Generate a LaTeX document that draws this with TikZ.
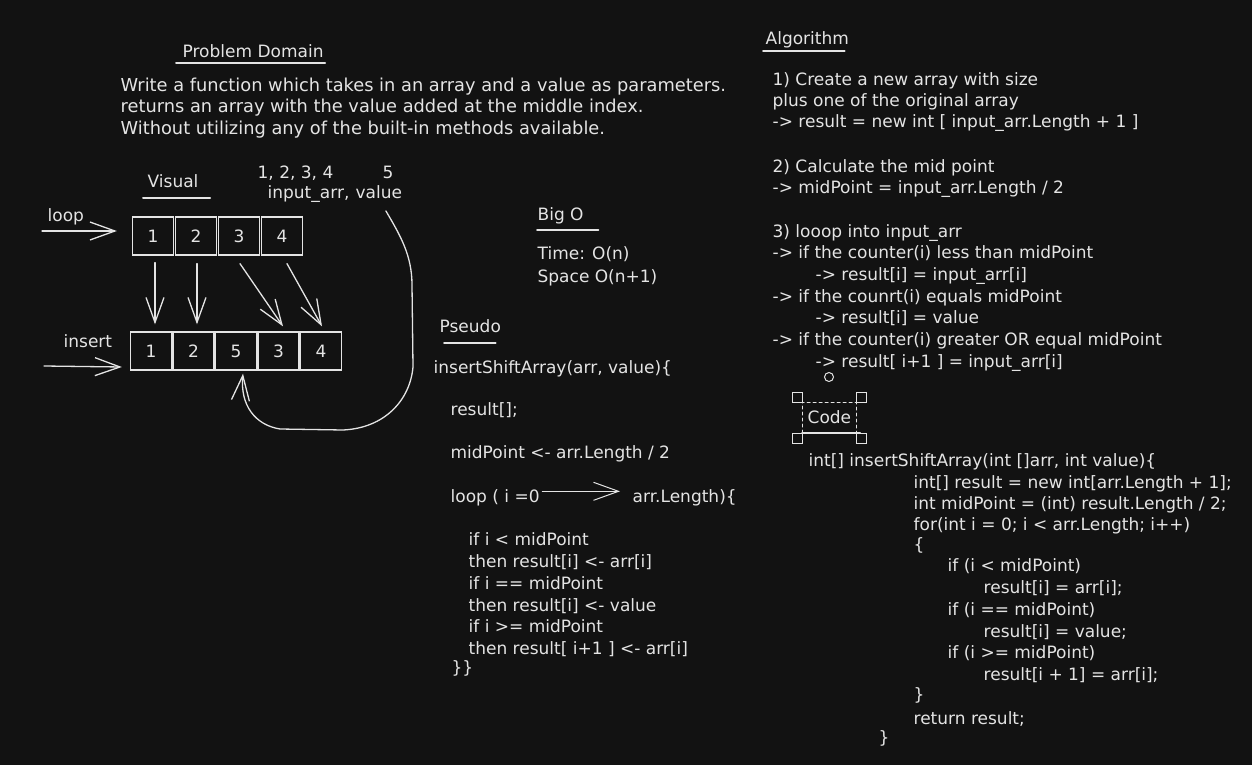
\documentclass[tikz,border=0pt]{standalone}
\usepackage{fontspec}
\setmainfont{DejaVu Sans}
\usetikzlibrary{arrows.meta}
\definecolor{board}{HTML}{121212}
\definecolor{chalk}{HTML}{E4E4E4}

\begin{document}
\begin{tikzpicture}[x=1pt,y=-1pt,color=chalk,line width=1.3pt,line cap=round,
	>={Straight Barb[length=25pt,width=18pt]},
	txt/.style={anchor=base west,inner sep=0pt,font=\fontsize{17}{20}\selectfont},
	wide/.style={txt,font=\fontsize{17.8}{20}\selectfont},
	cell/.style={draw,minimum width=41pt,minimum height=38pt,inner sep=0pt,font=\fontsize{17}{20}\selectfont},
	uline/.style={line width=2pt}]
	\fill[board] (0,0) rectangle (1252,765);
	\useasboundingbox (0,0) rectangle (1252,765);

	% Problem domain
	\node[txt] (pd) at (182,58) {Problem Domain};
	\draw[uline] ([shift={(-6,5)}]pd.base west) -- ([shift={(1,5)}]pd.base east);
	\node[wide] (pd1) at (120,92) {Write a function which takes in an array and a value as parameters.};
	\node[wide] (pd2) at (120,113) {returns an array with the value added at the middle index.};
	\node[wide] (pd3) at (120,135) {Without utilizing any of the built-in methods available.};

	% Visual
	\node[txt] (vis) at (147,187) {Visual};
	\draw[uline] ([shift={(-4,11)}]vis.base west) -- ([shift={(11,11)}]vis.base east);
	\node[txt] (nums) at (257,178) {1, 2, 3, 4};
	\node[txt] (five) at (382,178) {5};
	\node[txt] (inarr) at (267,198) {input\_arr,};
	\node[txt] (val) at (355,198) {value};

	\foreach \v [count=\i] in {1,2,3,4}
		\node[cell] (t\i) at ({153+43*(\i-1)},236) {\v};
	\foreach \v [count=\i] in {1,2,5,3,4}
		\node[cell] (b\i) at ({151+42.5*(\i-1)},351) {\v};

	% loop / insert
	\node[txt] (lp) at (47,221) {loop};
	\coordinate (lpin) at (42,231);
	\draw[->] (lpin) -- ([shift={(-15,-5)}]t1.west);
	\node[txt] (ins) at (63,347) {insert};
	\coordinate (insin) at (44,366);
	\draw[->] (insin) -- ([shift={(-8,16)}]b1.west);

	% Copy arrows
	\draw[->] ([shift={(2,7)}]t1.south) -- ([shift={(4,-7)}]b1.north);
	\draw[->] ([shift={(1,8)}]t2.south) -- ([shift={(3.5,-7)}]b2.north);
	\draw[->] ([shift={(1,8)}]t3.south) -- ([shift={(4.5,-5)}]b4.north);
	\draw[->] ([shift={(5,8)}]t4.south) -- ([shift={(1,-5)}]b5.north);

	% Value goes in the middle
	\draw[->] ([shift={(7,12)}]val.south) .. controls (400,235) and (412,255) .. (412,285)
		-- (413,367) .. controls (410,400) and (385,428) .. (343,430)
		-- (280,429) .. controls (255,425) and (240,405) .. ([shift={(7,3)}]b3.south);

	% Big O
	\node[txt] (bigo) at (537,220) {Big O};
	\draw[uline] ([shift={(0,10)}]bigo.base west) -- ([shift={(14,10)}]bigo.base east);
	\node[txt] (time) at (537,259) {Time: O(n)};
	\node[txt] (space) at (537,282) {Space O(n+1)};

	% Pseudo
	\node[txt] (ps) at (439,332) {Pseudo};
	\draw[uline] ([shift={(5,11)}]ps.base west) -- ([shift={(-6,11)}]ps.base east);
	\node[txt] (ps1) at (433,373) {insertShiftArray(arr, value)\{};
	\node[txt] (ps2) at (450,415) {result[];};
	\node[txt] (ps3) at (450,458) {midPoint <- arr.Length / 2};
	\node[txt] (ps4) at (450,502) {loop ( i =0};
	\node[txt] (ps5) at (632,502) {arr.Length)\{};
	\draw[->,line width=1pt] ([shift={(2,-6)}]ps4.east) -- ([shift={(-12,-6)}]ps5.west);
	\node[txt] (ps6) at (468,545) {if i < midPoint};
	\node[txt] (ps7) at (468,567) {then result[i] <- arr[i]};
	\node[txt] (ps8) at (468,589) {if i == midPoint};
	\node[txt] (ps9) at (468,611) {then result[i] <- value};
	\node[txt] (ps10) at (468,632) {if i >= midPoint};
	\node[txt] (ps11) at (468,654) {then result[ i+1 ] <- arr[i]};
	\node[txt] (ps12) at (451,673) {\}\}};

	% Algorithm
	\node[txt] (alg) at (765,45) {Algorithm};
	\draw[uline] ([shift={(-2,6)}]alg.base west) -- ([shift={(-5,6)}]alg.base east);
	\node[txt] (alg1) at (772,86) {1) Create a new array with size};
	\node[txt] (alg2) at (772,107) {plus one of the original array};
	\node[txt] (alg3) at (772,128) {-> result = new int [ input\_arr.Length + 1 ]};
	\node[txt] (alg4) at (772,172) {2) Calculate the mid point};
	\node[txt] (alg5) at (772,193) {-> midPoint = input\_arr.Length / 2};
	\node[txt] (alg6) at (772,237) {3) looop into input\_arr};
	\node[txt] (alg7) at (772,258) {-> if the counter(i) less than midPoint};
	\node[txt] (alg8) at (815,280) {-> result[i] = input\_arr[i]};
	\node[txt] (alg9) at (772,302) {-> if the counrt(i) equals midPoint};
	\node[txt] (alg10) at (815,323) {-> result[i] = value};
	\node[txt] (alg11) at (772,345) {-> if the counter(i) greater OR equal midPoint};
	\node[txt] (alg12) at (815,367) {-> result[ i+1 ] = input\_arr[i]};

	% Code (selected)
	\node[txt] (code) at (807,423) {Code};
	\coordinate (selA) at ([shift={(-5,-21)}]code.base west);
	\coordinate (selB) at ([shift={(49,10)}]code.base west);
	\draw[line width=1pt,dashed] (selA |- selB) -- (selA) -- (selA -| selB) -- (selB);
	\draw[uline] (selA |- selB) -- ([shift={(4,0)}]selB);
	\draw[line width=1pt] (selA) rectangle +(-10,-10);
	\draw[line width=1pt] (selA -| selB) rectangle +(10,-10);
	\draw[line width=1pt] (selA |- selB) rectangle +(-10,10);
	\draw[line width=1pt] (selB) rectangle +(10,10);
	\draw[line width=1pt] ([shift={(27,-25)}]selA) circle (4.5);

	\node[txt] (c1) at (808,466) {int[] insertShiftArray(int []arr, int value)\{};
	\node[txt] (c2) at (913,488) {int[] result = new int[arr.Length + 1];};
	\node[txt] (c3) at (913,509) {int midPoint = (int) result.Length / 2;};
	\node[txt] (c4) at (913,530) {for(int i = 0; i < arr.Length; i++)};
	\node[txt] (c5) at (913,550) {\{};
	\node[txt] (c6) at (947,571) {if (i < midPoint)};
	\node[txt] (c7) at (983,593) {result[i] = arr[i];};
	\node[txt] (c8) at (947,615) {if (i == midPoint)};
	\node[txt] (c9) at (983,637) {result[i] = value;};
	\node[txt] (c10) at (947,658) {if (i >= midPoint)};
	\node[txt] (c11) at (983,680) {result[i + 1] = arr[i];};
	\node[txt] (c12) at (913,700) {\}};
	\node[txt] (c13) at (913,724) {return result;};
	\node[txt] (c14) at (878,743) {\}};
\end{tikzpicture}
\end{document}
